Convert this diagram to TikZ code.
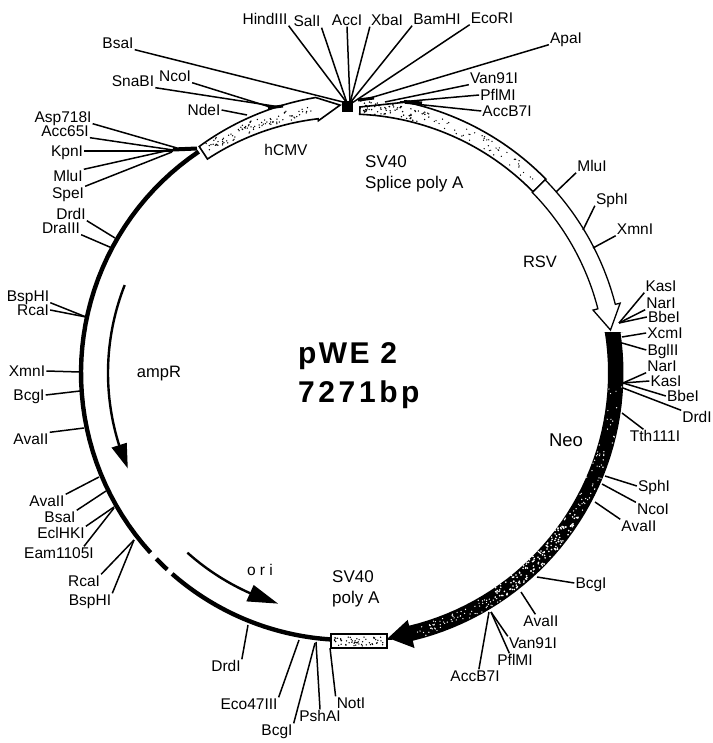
\documentclass[tikz,border=0pt]{standalone}
\usepackage{fontspec}
\setmainfont{Liberation Sans}
\newcommand{\pc}[3]{\coordinate (#1) at ({348+#2*cos(#3)},{373-#2*sin(#3)});}
\newcommand{\site}[5]{\node[lab] (#1) at (#3) {#2};\coordinate (#1r) at (#5);\draw[con] (#1.#4) -- (#1r);}
\newcommand{\specks}[7]{% count, a1, a2, r1, r2, colour, size
  \foreach \i in {1,...,#1}{%
    \pgfmathsetmacro{\ang}{#2+rnd*(#3-#2)}%
    \pgfmathsetmacro{\rad}{#4+rnd*(#5-#4)}%
    \fill[#6] ({348+\rad*cos(\ang)},{373-\rad*sin(\ang)}) circle[radius=#7pt];}}
\tikzset{
  dom/.style 2 args={domain=#1:#2,samples=40,variable=\t},
  lab/.style={font=\fontsize{15.5}{17}\selectfont,inner sep=1pt,text height=11pt,text depth=0pt},
  txt/.style={font=\fontsize{17}{21.5}\selectfont,inner sep=0pt,align=left,anchor=west},
  ttl/.style={anchor=base west,inner sep=0pt},
  con/.style={line width=1.5pt,black},
  band/.style={draw=black,line width=1.6pt,fill=white,line join=miter},
  ring/.style={line width=4.4pt,black},
  arr/.style={line width=2.4pt,black},
  head/.style={fill=black}
}
\begin{document}
\begin{tikzpicture}[x=1pt,y=-1pt]
\useasboundingbox (0,0) rectangle (712,743);
\fill[white] (0,0) rectangle (712,743);
\pgfmathsetseed{4217}
% backbone
\draw[ring] plot[dom={124}{222.3}] ({348+267*cos(\t)},{373-267*sin(\t)});
\draw[ring] plot[dom={224.1}{227.4}] ({348+267*cos(\t)},{373-267*sin(\t)});
\draw[ring] plot[dom={228.8}{266.2}] ({348+267*cos(\t)},{373-267*sin(\t)});
\draw[line width=1.2pt] (386,639) -- (392,639);
% hCMV
\pc{hb}{268}{91.7}\pc{hc}{254}{96.7}
\draw[band] plot[dom={123.3}{96.7}] ({348+(271+(123.3-\t)*0.24)*cos(\t)},{373-(271+(123.3-\t)*0.24)*sin(\t)}) -- (hb) -- (hc) -- plot[dom={96.7}{123.3}] ({348+256*cos(\t)},{373-256*sin(\t)}) -- cycle;
\specks{90}{98}{122}{259}{270}{black}{0.75}
% SV40 splice poly A
\draw[band] (360,107) -- (407,102) -- plot[dom={77.7}{44.4}] ({348+277*cos(\t)},{373-277*sin(\t)}) -- plot[dom={44.4}{87.4}] ({348+259*cos(\t)},{373-259*sin(\t)}) -- cycle;
\specks{45}{46}{72}{262}{274}{black}{0.7}
\specks{70}{72}{87}{260}{272}{black}{0.8}
% RSV
\pc{ra}{281}{14.4}\pc{rb}{266}{9.3}\pc{rc}{253}{14.4}
\draw[band,line width=1.3pt] plot[dom={44.4}{14.4}] ({348+276*cos(\t)},{373-276*sin(\t)}) -- (ra) -- (rb) -- (rc) -- plot[dom={14.4}{44.4}] ({348+258*cos(\t)},{373-258*sin(\t)}) -- cycle;
% Neo
\pc{na}{283}{-76.4}\pc{nb}{268}{-81.4}\pc{nc}{254}{-76.4}
\fill[black] (604,332) -- (623,332) -- plot[dom={8.5}{-76.4}] ({348+275.5*cos(\t)},{373-275.5*sin(\t)}) -- (na) -- (nb) -- (nc) -- plot[dom={-76.4}{9}] ({348+260*cos(\t)},{373-260*sin(\t)}) -- cycle;
\specks{10}{-12}{-2}{259}{274}{white}{0.7}
\specks{45}{-32}{-12}{260}{274}{white}{0.7}
\specks{150}{-56}{-32}{260}{274}{white}{0.9}
\specks{70}{-76}{-56}{262}{274}{white}{0.7}
% SV40 poly A box
\draw[band] (331,634) rectangle (387,648);
\foreach \i in {1,...,55}{\pgfmathsetmacro{\qx}{334+rnd*50}\pgfmathsetmacro{\qy}{637+rnd*9}\fill (\qx,\qy) circle[radius=0.75pt];}
% inner arrows
\draw[arr] plot[dom={158.5}{198}] ({348+240*cos(\t)},{373-240*sin(\t)});
\pc{aa}{248}{197.5}\pc{ab}{240}{203.4}\pc{ac}{232}{197.5}
\fill[head] (aa) -- (ab) -- (ac) -- cycle;
\draw[arr] plot[dom={228.2}{247}] ({348+241*cos(\t)},{373-241*sin(\t)});
\pc{oa}{250}{246}\pc{ob}{241}{253.1}\pc{oc}{232}{246}
\fill[head] (oa) -- (ob) -- (oc) -- cycle;
% sites: top
\site{hind}{HindIII}{265,19}{south east}{347,103}
\site{sal}{SalI}{307,21}{south east}{347,103}
\site{acc}{AccI}{347,20}{south}{350,103}
\site{xba}{XbaI}{387,20}{south west}{350,103}
\site{bam}{BamHI}{437,19}{south west}{350,103}
\site{eco}{EcoRI}{492,18}{south west}{352,103}
\site{apa}{ApaI}{566,38}{south west}{360,101}
\site{van}{Van91I}{494,78}{south west}{385,102}
\site{pfl}{PflMI}{498,95}{west}{400,102}
\site{accb}{AccB7I}{507,111}{west}{405,103}
\site{bsa}{BsaI}{118,43}{south east}{343,102}
\site{sna}{SnaBI}{133,81}{south east}{280,107}
\site{nco}{NcoI}{175,76}{south east}{270,107}
\site{nde}{NdeI}{204,110}{east}{247,115}
% sites: right
\site{mlu}{MluI}{592,166}{south west}{556,192}
\site{sph}{SphI}{612,199}{south west}{583,230}
\site{xmn}{XmnI}{635,229}{south west}{593,248}
\site{kas}{KasI}{661,286}{south west}{619,323}
\site{nar}{NarI}{661,303}{south west}{619,323}
\site{bbe}{BbeI}{664,317}{west}{619,323}
\site{xcm}{XcmI}{665,333}{west}{622,337}
\site{bgl}{BglII}{663,350}{west}{622,343}
\site{narb}{NarI}{662,366}{south west}{623,383}
\site{kasb}{KasI}{666,381}{west}{623,383}
\site{bbeb}{BbeI}{683,396}{west}{623,383}
\site{drd}{DrdI}{697,417}{north west}{623,388}
\site{tth}{Tth111I}{655,436}{150}{622,413}
\site{sphb}{SphI}{654,486}{west}{605,476}
\site{ncob}{NcoI}{653,509}{north west}{602,484}
\site{ava}{AvaII}{639,526}{north west}{595,502}
\site{bcg}{BcgI}{591,583}{west}{537,577}
\site{avab}{AvaII}{541,621}{130}{521,592}
\site{vanb}{Van91I}{533,643}{north west}{491,612}
\site{pflb}{PflMI}{515,660}{130}{491,612}
\site{accc}{AccB7I}{475,676}{60}{489,612}
% sites: bottom
\site{notI}{NotI}{351,703}{north west}{330,648}
\site{psh}{PshAI}{320,716}{north}{316,642}
\site{bcgb}{BcgI}{277,730}{north east}{315,643}
\site{ecoc}{Eco47III}{249,704}{north east}{299,640}
\site{drdb}{DrdI}{226,666}{north east}{248,625}
% sites: left
\site{bsp}{BspHI}{90,600}{north east}{134,540}
\site{rca}{RcaI}{84,581}{north east}{134,540}
\site{eam}{Eam1105I}{59,553}{15}{114,508}
\site{ecl}{EclHKI}{61,533}{north east}{114,507}
\site{bsab}{BsaI}{60,517}{north east}{106,491}
\site{avac}{AvaII}{47,501}{north east}{99,477}
\site{avad}{AvaII}{31,439}{north east}{84,428}
\site{bcgc}{BcgI}{29,395}{east}{80,391}
\site{xmnb}{XmnI}{27,371}{east}{80,372}
\site{rcab}{RcaI}{33,310}{east}{86,317}
\site{bspb}{BspHI}{28,296}{south east}{86,317}
\site{dra}{DraIII}{61,228}{south east}{112,248}
\site{drdc}{DrdI}{71,214}{south east}{115,238}
\site{spe}{SpeI}{68,193}{north east}{172,152}
\site{mlub}{MluI}{68,176}{north east}{170,150}
\site{kpn}{KpnI}{67,151}{east}{173,151}
\site{accd}{Acc65I}{65,131}{south east}{173,150}
\site{asp}{Asp718I}{63,117}{south east}{177,148}
% junction marks
\fill (342,101) rectangle (353,112);
\draw[line width=4pt] (173,149.5) -- (197,148.5);
\draw[line width=3pt] (268,108) -- (283,106);
\draw[line width=3pt] (404,101.5) -- (422,103);
\draw[line width=3pt] (358,100) -- (374,98);
% texts
\node[lab] (hcmv) at (286,150) {hCMV};
\node[txt] (svs) at (365,174) {SV40\\Splice poly A};
\node[lab,font=\fontsize{16.5}{18}\selectfont] (rsv) at (540,262) {RSV};
\node[lab,font=\fontsize{18.5}{20}\selectfont] (neo) at (566,441) {Neo};
\node[lab,font=\fontsize{16.5}{18}\selectfont] (ampr) at (159,372) {ampR};
\node[lab] (ori) at (260,570) {o r i};
\node[txt] (svp) at (332,589) {SV40\\poly A};
\node[ttl,font=\bfseries\fontsize{30}{36}\selectfont\addfontfeature{LetterSpace=8}] (titlea) at (298,363) {pWE 2};
\node[ttl,font=\bfseries\fontsize{30}{36}\selectfont\addfontfeature{LetterSpace=12}] (titleb) at (298,402) {7271bp};
\end{tikzpicture}
\end{document}
